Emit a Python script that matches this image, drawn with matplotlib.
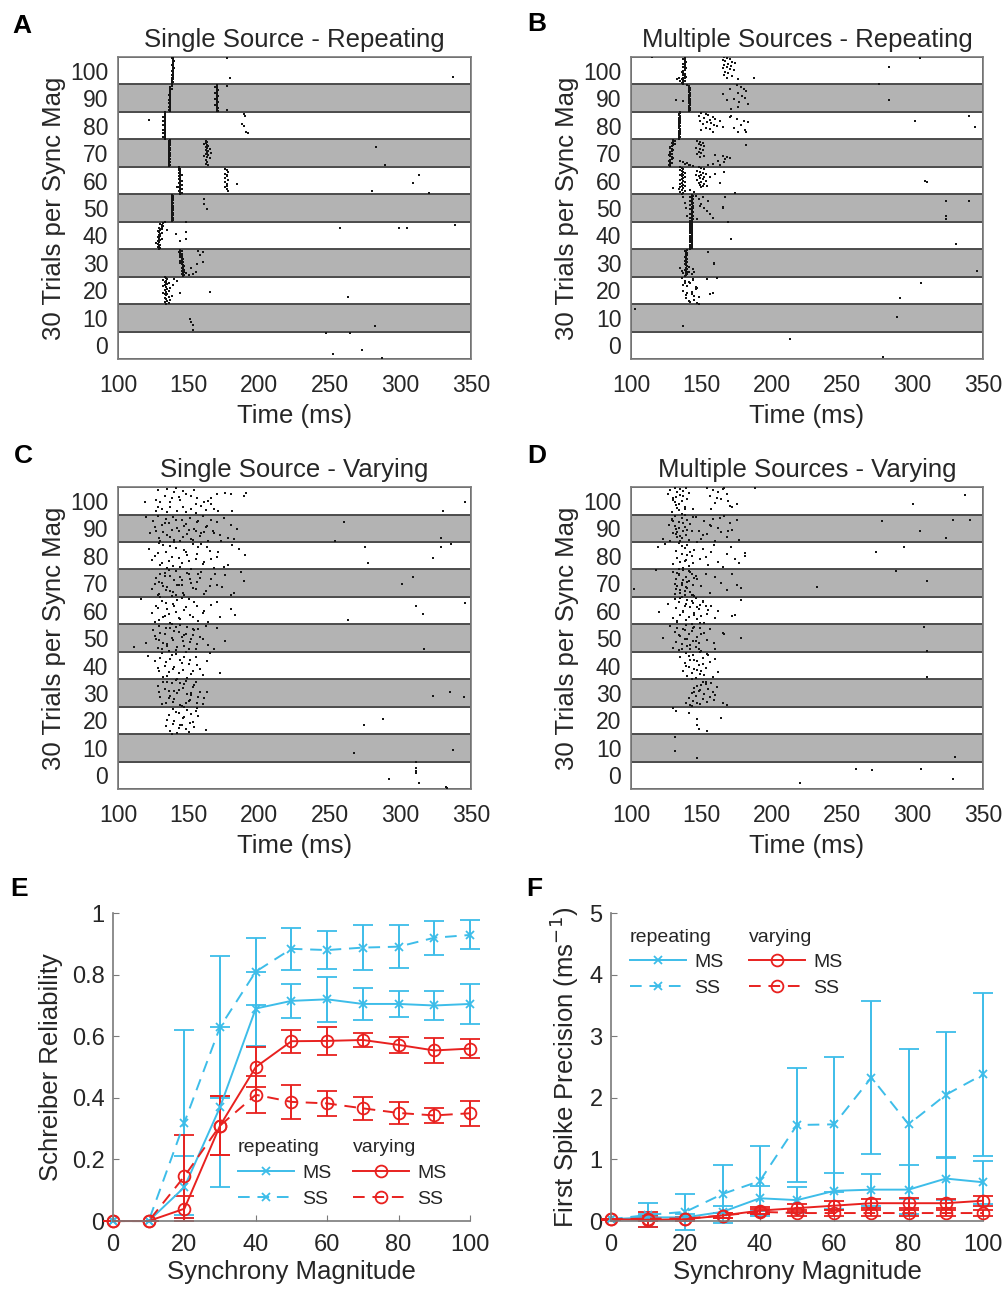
import numpy as np
import matplotlib
matplotlib.use("Agg")
import matplotlib.pyplot as plt
from matplotlib.lines import Line2D

plt.rcParams['font.family'] = ['Liberation Sans', 'DejaVu Sans']

# sync magnitudes (one band of 30 trials each)
mags = [0, 10, 20, 30, 40, 50, 60, 70, 80, 90, 100]

# ---------------- raster data ----------------
# *_lines: tight spike columns, one time (ms) per trial 0..29 (trial 0 = bottom of band)
# *_t / *_k: loose spikes, time (ms) and trial index

# A: single source - repeating
A_lines = {
    100: [[138,138,139,138,138,139,139,138,139,139,138,139,139,139,138,139,139,139,140,139,139,138,139,139,139,140,139,139,138,139]],
    90: [[137,137,136,137,137,136,137,137,137,136,137,137,137,136,137,137,137,137,136,137,137,137,137,137,138,137,137,137,138,138],
         [170,171,170,170,171,170,170,169,170,170,171,170,170,170,169,170,170,171,170,170,169,170,170,171,170,170,170,169,170,170]],
    80: [[133,133,132,133,133,133,132,133,133,133,132,133,133,133,133,132,133,133,133,132,133,133,133,133,132,133,133,133,133,133]],
    70: [[136,136,137,136,136,137,136,136,137,136,136,137,136,136,137,137,136,136,137,136,137,136,136,137,136,137,136,137,136,137]],
    60: [[144,145,144,143,144,145,144,143,144,144,145,144,143,144,145,144,143,144,144,143,144,145,144,143,144,144,143,144,143,143]],
    50: [[138,139,138,138,139,138,138,139,138,139,138,138,139,138,138,139,138,139,138,138,139,138,138,139,138,139,138,138,139,138]],
    40: [[129,130,128,129,130,128,127,129,128,130,129,131,129,128,130,129,130,131,129,128,130,131,130,129,131,132,131,130,132,133]],
    30: [[146,147,145,146,147,146,145,147,146,145,146,147,146,145,144,146,145,144,145,146,145,144,145,144,145,144,143,144,145,144]],
    20: [[134,136,133,135,137,134,133,136,138,134,133,135,132,134,136,133,135,137,134,132,133,135,134,136,133,134,132,135,134,133]],
}
A_t = {
    100: [177, 179, 337],
    90: [177, 177],
    80: [122, 189, 190, 188, 189, 191, 192],
    70: [162,163,162,161,163,164,162,163,165,162,164,163,166,162,163,164,161,163,165,162,163,162,164,283,289],
    60: [176,177,178,176,177,177,176,178,176,177,177,176,177,178,142,184,313,309,280,320],
    50: [161, 161, 163],
    40: [148,135,148,141,148,144,257,299,305,339],
    30: [157,160,158,160,156,152,155,148,150,153],
    20: [140,142,139,144,165,263],
    10: [151,152,153,153,282],
    0: [247,264,252,273,287],
}
A_k = {
    100: [28, 6, 8],
    90: [28, 2],
    80: [21, 27, 25, 16, 14, 8, 6],
    70: [28,27,25,24,23,22,21,20,19,18,17,16,15,14,13,12,11,10,9,7,5,3,1,21,1],
    60: [27,26,24,22,21,19,17,15,13,11,9,7,5,3,7,11,20,12,3,1],
    50: [24, 19, 13],
    40: [29,20,18,16,11,8,23,23,23,26],
    30: [27,26,23,16,13,9,4,3,1,2],
    20: [27,25,20,12,13,7],
    10: [13,10,7,1,5],
    0: [28,28,5,9,1],
}

# B: multiple sources - repeating
B_lines = {
    100: [[137,136,137,138,137,136,137,138,139,138,137,138,137,136,137,138,138,139,138,137,138,138,137,138,139,138,138,137,138,138]],
    90: [[141,141,142,141,142,141,141,142,142,141,142,141,141,142,142,141,141,142,141,142,142,141,141,142,141,141,142,141,141,140]],
    80: [[134,134,135,134,134,135,134,135,134,134,135,135,134,134,135,134,134,135,134,135,134,134,135,134,135,135,134,134,135,135]],
    70: [[128,128,127,128,129,128,127,128,129,130,129,128,127,128,129,128,128,129,130,129,128,128,129,130,131,130,129,130,131,130]],
    60: [[136,137,135,138,136,134,137,135,138,136,137,135,136,138,137,135,136,137,138,136,135,137,136,138,137,136,135,137,136,135]],
    50: [[142,143,144,143,142,143,144,143,142,143,144,143,143,142,144,143,143,144,142,143,144,143,142,143,144,143,142,143,144,143]],
    40: [[142,143,142,143,142,143,143,142,143,142,143,143,142,143,142,143,143,142,143,142,143,143,142,143,142,143,142,143,142,143]],
    30: [[138,139,140,139,141,140,139,138,140,139,141,140,139,138,139,140,139,138,139,140,139,138,139,140,139,140,139,138,139,140]],
}
B_t = {
    100: [166,168,170,165,167,172,174,169,166,171,168,165,170,173,167,169,166,172,168,176,134,133,135,115,187,283,305,276],
    90: [175,178,180,170,182,176,165,179,181,173,168,177,183,176,171,132,283,137],
    80: [150,153,155,148,158,152,160,156,149,163,154,157,151,159,161,165,153,156,150,158,171,175,180,183,178,173,181,176,182,170,302,340,344],
    70: [147,149,151,148,150,152,146,149,151,148,150,147,152,149,160,165,168,170,167,162,166,158,155,163,135,137,140,138,142,141,144,182],
    60: [148,150,152,147,149,151,153,146,150,148,152,149,151,147,153,150,148,152,149,151,154,150,156,160,163,166,174,309,310,142,145,130],
    50: [137,138,139,140,146,148,150,152,154,156,158,147,151,155,149,165,165,167,324,340,324,324],
    40: [169, 171, 331],
    30: [135,136,137,144,145,143,155,159,159,346],
    20: [136,137,138,139,140,141,142,143,144,145,146,147,148,137,139,141,143,145,147,138,140,142,144,146,148,154,161,156,158,306,291],
    10: [103, 137, 289],
    0: [213, 279],
}
B_k = {
    100: [29,28,27,26,25,24,23,22,21,20,19,18,16,15,13,12,10,9,7,5,6,5,3,29,7,19,28,0],
    90: [29,27,25,24,22,20,19,17,15,14,12,10,8,5,3,13,13,11],
    80: [28,27,26,25,24,23,22,21,20,19,18,17,16,15,14,13,12,11,10,8,25,22,20,18,15,12,10,8,7,24,19,25,13],
    70: [28,27,26,24,23,22,20,19,18,16,15,13,11,10,12,11,10,9,8,6,5,3,2,1,6,5,4,3,2,1,0,23],
    60: [29,28,27,25,24,23,22,21,20,19,18,17,16,15,14,13,12,11,10,9,8,7,18,22,12,24,1,14,13,4,2,6],
    50: [27,20,14,6,28,24,19,15,11,8,4,2,26,22,17,16,14,27,22,22,6,2],
    40: [29, 11, 5],
    30: [9,6,3,8,5,2,26,14,13,6],
    20: [28,14,25,6,19,3,22,11,27,8,16,1,0,20,9,24,13,4,17,23,12,2,26,18,7,27,28,10,12,23,6],
    10: [24, 6, 15],
    0: [21, 2],
}

# C: single source - varying
C_t = {
    100: [128,135,141,146,154,170,176,180,189,191,119,127,130,138,143,144,152,155,161,164,166,128,131,137,146,152,159,168,181,127,135,142,148,155,162,133,137,140,148,156,166,171,346,330],
    90: [120,125,128,131,134,136,139,142,145,148,151,154,157,160,163,166,170,175,180,184,
         123,127,129,132,135,138,140,143,146,149,152,155,158,161,164,168,172,178,
         126,130,133,137,141,144,147,150,153,156,159,162,167,173,182,260,254,329],
    80: [122,126,129,131,134,137,139,143,147,150,153,156,160,163,166,171,175,181,190,
         124,128,132,135,138,141,145,148,152,157,161,165,170,178,186,
         130,136,140,144,149,155,159,168,275,277,329,336,323],
    70: [124,127,129,131,133,135,137,139,141,143,145,147,150,153,156,159,162,166,170,176,182,189,
         126,128,130,132,134,136,138,140,142,144,146,149,152,155,158,161,165,169,174,180,187,
         129,133,137,141,145,151,157,309,301],
    60: [116,124,127,129,131,133,135,137,139,141,143,145,148,151,154,157,161,166,172,
         126,128,130,132,134,136,138,140,142,144,147,150,153,156,160,164,170,180,183,
         263,311,316,346],
    50: [111,120,125,127,129,131,133,135,137,139,141,143,145,147,149,151,153,155,157,160,164,170,176,
         126,128,130,132,134,136,138,140,142,144,146,148,150,152,154,156,158,162,168,
         129,135,141,147,153,317],
    40: [121,126,129,131,133,135,137,139,141,143,145,147,149,151,153,156,160,
         128,130,132,134,136,138,140,142,144,146,148,150,152,155,158,163,165,172],
    30: [128,130,132,134,136,138,140,142,144,146,148,150,152,154,156,158,161,
         129,131,133,135,137,139,141,143,145,147,149,151,153,155,157,160,
         136,140,144,148,152,163,323,335,345],
    20: [134,136,137,139,140,142,143,145,146,148,149,151,152,154,156,
         135,138,141,144,147,150,153,155,157,139,143,147,162,274,288],
    10: [267, 337],
    0: [311,311,311,311,292,313,332,333],
}
C_k = {
    100: [26,27,28,25,26,22,23,22,20,23,13,15,13,17,19,15,20,11,13,14,11,8,6,8,8,6,9,6,3,3,2,3,2,1,4,20,13,24,22,18,17,3,13,3],
    90: [27,22,28,18,25,20,27,15,23,19,26,14,22,28,17,24,21,26,18,14,
         9,12,4,10,7,13,2,11,5,8,3,12,6,10,1,9,7,4,
         16,0,20,5,24,1,17,13,2,21,9,16,11,0,3,21,1,4],
    80: [22,14,28,7,19,25,3,12,21,9,27,16,5,24,11,18,2,26,15,
         10,17,26,1,13,23,6,18,0,24,8,20,13,4,22,
         4,9,29,2,15,11,27,1,24,6,24,27,12],
    70: [8,20,3,15,26,10,22,5,28,13,18,1,24,9,16,27,6,19,12,23,4,17,
         14,2,25,11,7,29,0,18,12,21,4,26,15,8,20,3,11,24,10,2,27,
         16,22,6,1,13,19,25,21,14],
    60: [27,12,20,4,25,9,16,1,22,13,6,28,18,10,24,3,14,21,8,
         2,17,29,7,23,11,0,19,26,5,15,27,8,20,12,2,24,16,10,
         4,19,11,23],
    50: [5,9,23,14,28,3,19,8,25,12,1,21,16,6,27,10,18,2,24,13,7,26,11,
         17,4,20,9,26,0,15,22,5,29,11,19,3,14,23,8,16,28,2,
         12,6,27,18,24,2],
    40: [25,19,8,28,14,3,22,11,27,6,17,24,1,20,9,15,4,
         12,23,2,18,7,26,13,0,21,10,29,16,5,24,11,19,28,6],
    30: [22,10,27,4,17,25,8,14,1,20,28,6,12,23,3,16,9,
         15,2,19,26,11,5,29,18,0,24,13,7,21,27,10,2,
         9,17,25,4,14,16,11,16,10],
    20: [8,20,3,27,14,1,23,10,17,5,26,12,21,7,28,
         15,0,24,9,18,2,13,25,19,11,6,29,4,9,16],
    10: [9, 12],
    0: [29,22,19,17,11,6,2,1],
}

# D: multiple sources - varying
D_t = {
    100: [126,128,130,131,132,133,134,135,136,137,138,139,140,129,131,133,135,137,134,136,138,130,132,141,144,
          154,156,158,160,162,164,166,168,170,157,161,165,169,172,175,188,337,300],
    90: [123,127,129,130,131,132,133,134,135,136,137,138,139,140,141,142,143,144,128,130,132,134,136,138,140,129,133,137,135,131,
         146,148,150,152,154,156,158,160,162,164,166,168,170,172,175,177,151,157,163,169,278,305,329,341,324],
    80: [119,124,130,132,133,134,135,136,137,138,139,140,141,142,143,144,145,147,149,134,136,138,140,
         151,153,155,157,159,162,165,168,171,174,177,181,181,274,294],
    70: [130,131,132,133,134,135,136,137,138,139,140,141,142,143,144,145,146,131,133,135,137,139,141,143,145,132,134,136,138,140,142,144,
         147,150,153,156,160,164,168,172,175,178,102,118,232,288,310],
    60: [120,126,130,131,132,133,134,135,136,137,138,139,140,141,142,143,144,145,146,147,148,149,150,151,152,153,154,155,
         133,135,137,139,141,143,145,147,149,151,157,160,162,178,172,174],
    50: [123,128,130,131,132,133,134,135,136,137,138,139,140,141,142,143,144,145,146,147,148,149,150,152,154,
         134,136,138,140,142,144,146,148,150,156,159,160,165,166,178,308,310],
    40: [135,137,138,139,140,141,142,143,144,145,146,147,148,149,150,151,152,153,154,156,158,160,162,
         139,141,143,145,147,149,151,155,310],
    30: [139,141,142,143,144,145,146,147,148,149,150,151,152,153,154,155,156,157,158,159,160,
         143,145,147,149,151,153,161,165,168],
    20: [130,141,147,164,147,148,154,132],
    10: [131,131,147,330],
    0: [260,271,306,329,220],
}
D_k = {
    100: [22,26,18,29,10,24,4,27,14,20,8,28,16,2,13,7,21,25,11,0,5,15,19,23,6,
          28,20,26,12,24,16,29,22,9,5,18,27,14,8,11,29,21,11],
    90: [3,18,25,9,28,14,5,21,1,26,11,16,7,23,2,19,12,27,0,22,8,15,4,29,13,24,10,20,6,17,
         27,12,3,22,8,18,25,1,15,10,28,5,20,13,23,2,7,17,26,11,22,12,23,23,4],
    80: [24,27,5,20,12,28,8,16,1,23,10,26,3,18,14,7,21,29,11,0,25,9,15,
         22,13,4,19,26,8,2,16,24,11,6,14,17,19,24],
    70: [27,3,19,11,24,7,15,29,1,21,9,17,5,25,13,0,22,14,26,4,18,10,28,2,20,8,23,12,6,16,27,1,
         19,11,25,4,21,15,7,24,13,9,8,29,10,28,17],
    60: [13,22,6,27,17,2,24,10,29,14,20,4,26,8,18,0,23,12,28,5,16,21,9,25,1,19,11,15,
         3,28,13,22,7,25,10,18,1,24,20,6,14,26,9,10],
    50: [15,28,4,21,10,26,1,17,8,24,13,29,6,19,2,22,11,27,5,16,9,25,0,20,12,
         18,3,23,14,7,26,11,2,19,24,9,3,20,19,15,27,0],
    40: [24,9,17,28,3,13,21,6,26,11,1,19,15,29,8,23,4,12,27,18,2,22,7,
         14,25,0,20,10,5,16,26,2],
    30: [3,9,1,14,6,20,11,4,17,2,23,8,13,27,5,19,10,25,15,7,12,
         0,16,22,18,26,24,21,3,1],
    20: [28,23,16,17,9,5,3,25],
    10: [26,11,3,4],
    0: [21,20,21,11,6],
}

# ---------------- summary data ----------------
sync = [0, 10, 20, 30, 40, 50, 60, 70, 80, 90, 100]

# E: Schreiber reliability
rel_ms_rep = [0, 0, 0.11, 0.37, 0.69, 0.715, 0.72, 0.705, 0.705, 0.70, 0.705]
rel_ms_rep_err = [0, 0, 0.10, 0.26, 0.12, 0.056, 0.073, 0.053, 0.043, 0.047, 0.065]
rel_ss_rep = [0, 0, 0.32, 0.63, 0.81, 0.884, 0.88, 0.888, 0.891, 0.92, 0.929]
rel_ss_rep_err = [0, 0, 0.30, 0.23, 0.11, 0.068, 0.062, 0.074, 0.069, 0.055, 0.047]
rel_ms_var = [0, 0, 0.04, 0.31, 0.50, 0.584, 0.585, 0.588, 0.572, 0.554, 0.56]
rel_ms_var_err = [0, 0, 0.04, 0.095, 0.065, 0.038, 0.045, 0.023, 0.027, 0.04, 0.03]
rel_ss_var = [0, 0, 0.145, 0.31, 0.41, 0.387, 0.382, 0.366, 0.351, 0.343, 0.35]
rel_ss_var_err = [0, 0, 0.135, 0.095, 0.06, 0.055, 0.04, 0.037, 0.037, 0.025, 0.04]

# F: first spike precision (1/ms)
fsp_ms_rep = [0.03, 0.06, 0.06, 0.15, 0.37, 0.34, 0.49, 0.51, 0.51, 0.69, 0.63]
fsp_ms_rep_err = [0.01, 0.05, 0.05, 0.10, 0.20, 0.21, 0.29, 0.26, 0.40, 0.35, 0.35]
fsp_ss_rep = [0.03, 0.10, 0.15, 0.44, 0.65, 1.56, 1.57, 2.33, 1.57, 2.05, 2.38]
fsp_ss_rep_err = [0.01, 0.19, 0.29, 0.47, 0.57, 0.92, 1.10, 1.24, 1.22, 1.02, 1.33]
fsp_ms_var = [0.03, 0.02, 0.03, 0.09, 0.17, 0.21, 0.25, 0.29, 0.29, 0.29, 0.33]
fsp_ms_var_err = [0.01, 0.12, 0.03, 0.04, 0.06, 0.06, 0.07, 0.07, 0.08, 0.07, 0.08]
fsp_ss_var = [0.03, 0.04, 0.04, 0.09, 0.15, 0.13, 0.13, 0.13, 0.13, 0.13, 0.13]
fsp_ss_var_err = [0.01, 0.04, 0.03, 0.04, 0.04, 0.05, 0.05, 0.05, 0.05, 0.05, 0.05]

CYAN = '#3dbde9'
RED = '#e8211f'
TXT = '#262626'
GRAY = '#7a7a7a'

fig = plt.figure(figsize=(10.04, 12.95), dpi=100)


def trial_y(m, k):
    # 30 trials stacked inside the band centred on magnitude m
    return m - 5 + (np.asarray(k, dtype=float) + 0.5) / 3.0


def raster(rect, lines, ex_t, ex_k, title):
    ax = fig.add_axes(rect)
    for m in mags:
        shade = '#b3b3b3' if m % 20 == 10 else 'white'
        ax.axhspan(m - 5, m + 5, facecolor=shade, edgecolor='#4d4d4d', lw=1.4, zorder=0)
        for row in lines.get(m, []):
            ax.scatter(row, trial_y(m, np.arange(len(row))), s=4.5, marker='s',
                       color='#151515', linewidths=0, zorder=3)
        if m in ex_t:
            ax.scatter(ex_t[m], trial_y(m, ex_k[m]), s=4.5, marker='s',
                       color='#151515', linewidths=0, zorder=3)
    ax.set_xlim(100, 350)
    ax.set_ylim(-5, 105)
    ax.set_yticks(mags)
    ax.set_xticks([100, 150, 200, 250, 300, 350])
    ax.tick_params(length=0, labelsize=16.5, colors=TXT)
    ax.tick_params(axis='x', pad=11)
    ax.tick_params(axis='y', pad=7)
    for sp in ax.spines.values():
        sp.set_color(GRAY)
        sp.set_linewidth(1.2)
    ax.set_title(title, fontsize=18.5, color=TXT, pad=7)
    ax.set_xlabel('Time (ms)', fontsize=18.5, color=TXT, labelpad=5)
    ax.set_ylabel('30 Trials per Sync Mag', fontsize=18.5, color=TXT, labelpad=3)
    return ax


raster([0.1175, 0.7228, 0.3516, 0.2332], A_lines, A_t, A_k, 'Single Source - Repeating')
raster([0.6285, 0.7228, 0.3506, 0.2332], B_lines, B_t, B_k, 'Multiple Sources - Repeating')
raster([0.1175, 0.3907, 0.3516, 0.2332], {}, C_t, C_k, 'Single Source - Varying')
raster([0.6285, 0.3907, 0.3506, 0.2332], {}, D_t, D_k, 'Multiple Sources - Varying')


def series(ax, y, err, color, ls, marker):
    ms = 6 if marker == 'x' else 8.5
    eb = ax.errorbar(sync, y, yerr=err, color=color, ls=ls, marker=marker, ms=ms,
                     mfc='none', mew=1.3, lw=1.4, elinewidth=1.4, capsize=7, capthick=1.4)
    if ls == '--':
        eb[0].set_dashes((6, 4))
    for art in [eb[0]] + list(eb[1]) + list(eb[2]):
        art.set_clip_on(False)


def summary(rect, curves, ylim, yticks, yticklabels, ylabel, leg_pos):
    ax = fig.add_axes(rect)
    for y, err, color, ls, marker in curves:
        series(ax, y, err, color, ls, marker)
    ax.set_xlim(0, 100)
    ax.set_ylim(*ylim)
    ax.set_xticks([0, 20, 40, 60, 80, 100])
    ax.set_yticks(yticks)
    ax.set_yticklabels(yticklabels)
    ax.spines['top'].set_visible(False)
    ax.spines['right'].set_visible(False)
    for sp in ('left', 'bottom'):
        ax.spines[sp].set_color(GRAY)
        ax.spines[sp].set_linewidth(1.2)
    ax.tick_params(direction='in', length=4, color=GRAY, labelsize=17, labelcolor=TXT)
    ax.tick_params(axis='x', pad=9)
    ax.tick_params(axis='y', pad=6)
    ax.set_xlabel('Synchrony Magnitude', fontsize=18.5, color=TXT, labelpad=3)
    ax.set_ylabel(ylabel, fontsize=18.5, color=TXT, labelpad=6)

    def proxy(color, ls, marker):
        h = Line2D([], [], color=color, ls=ls, marker=marker, ms=6 if marker == 'x' else 8.5,
                   mfc='none', mew=1.3, lw=1.4)
        if ls == '--':
            h.set_dashes((6, 4))
        return h

    kw = dict(loc='upper left', frameon=False, fontsize=14, title_fontsize=14,
              handlelength=2.9, handletextpad=0.4, labelspacing=0.42, borderpad=0,
              borderaxespad=0, alignment='left')
    (x1, x2, yl) = leg_pos
    leg1 = ax.legend([proxy(CYAN, '-', 'x'), proxy(CYAN, '--', 'x')], ['MS', 'SS'],
                     title='repeating', bbox_to_anchor=(x1, yl), **kw)
    ax.add_artist(leg1)
    ax.legend([proxy(RED, '-', 'o'), proxy(RED, '--', 'o')], ['MS', 'SS'],
              title='varying', bbox_to_anchor=(x2, yl), **kw)
    for leg in ax.get_legend(), leg1:
        for t in leg.get_texts():
            t.set_color(TXT)
        leg.get_title().set_color(TXT)
    return ax


summary([0.1125, 0.0571, 0.3556, 0.2378],
        [(rel_ss_rep, rel_ss_rep_err, CYAN, '--', 'x'),
         (rel_ms_rep, rel_ms_rep_err, CYAN, '-', 'x'),
         (rel_ss_var, rel_ss_var_err, RED, '--', 'o'),
         (rel_ms_var, rel_ms_var_err, RED, '-', 'o')],
        (0, 1), [0, 0.2, 0.4, 0.6, 0.8, 1], ['0', '0.2', '0.4', '0.6', '0.8', '1'],
        'Schreiber Reliability', (0.35, 0.672, 0.265))

summary([0.6086, 0.0571, 0.3705, 0.2378],
        [(fsp_ss_rep, fsp_ss_rep_err, CYAN, '--', 'x'),
         (fsp_ms_rep, fsp_ms_rep_err, CYAN, '-', 'x'),
         (fsp_ss_var, fsp_ss_var_err, RED, '--', 'o'),
         (fsp_ms_var, fsp_ms_var_err, RED, '-', 'o')],
        (0, 5), [0, 1, 2, 3, 4, 5], ['0', '1', '2', '3', '4', '5'],
        'First Spike Precision (ms$^{-1}$)', (0.051, 0.371, 0.95))

# panel letters
for letter, x, y in [('A', 12, 14), ('B', 527, 12), ('C', 14, 444),
                     ('D', 527, 444), ('E', 10, 877), ('F', 526, 877)]:
    fig.text(x / 1004, 1 - y / 1295, letter, fontsize=19, fontweight='bold',
             va='top', ha='left', color='black')

fig.savefig('out.png', dpi=100)
